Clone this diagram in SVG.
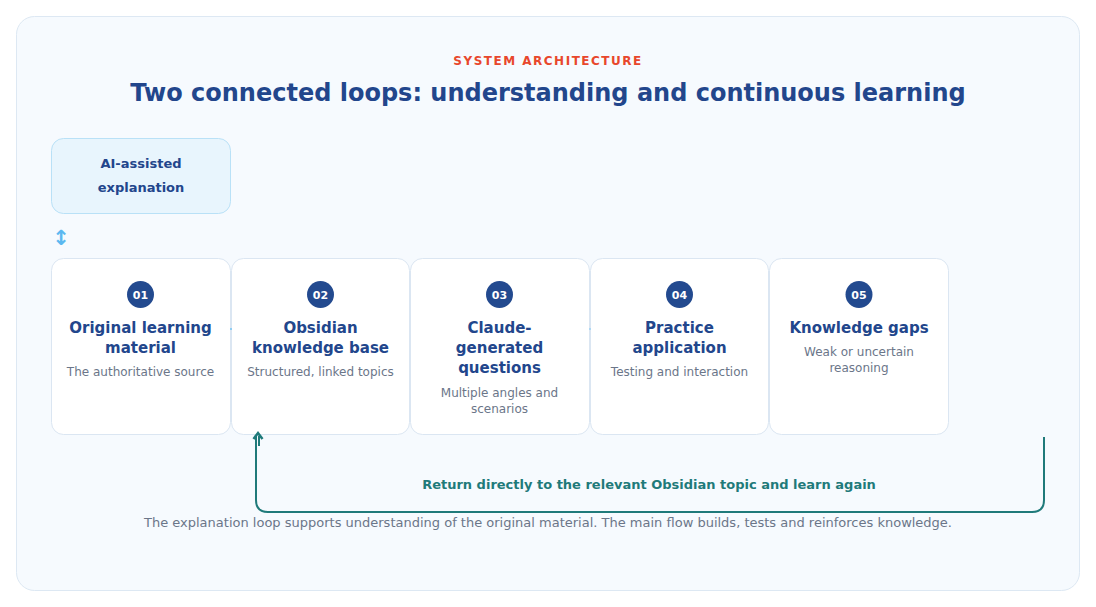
<svg xmlns="http://www.w3.org/2000/svg" width="1096" height="607" viewBox="0 0 1096 607">
<defs>
<style>
.t{font-family:"DejaVu Sans","Liberation Sans",sans-serif;text-anchor:middle}
.card{fill:#ffffff;stroke:#dbe6f2;stroke-width:1}
.num{fill:#234a8f}
.numt{font-size:11px;font-weight:bold;fill:#ffffff}
.ttl{font-size:15px;font-weight:bold;fill:#22468c}
.sub{font-size:12px;fill:#6b7689}
.flow{stroke:#8fcdf3;stroke-width:2;fill:none}
</style>
</defs>
<rect width="1096" height="607" fill="#ffffff"/>
<rect x="16.5" y="16.5" width="1063" height="574" rx="18" fill="#f6fafe" stroke="#dde8f3"/>
<text class="t" x="548" y="65" font-size="12" font-weight="bold" fill="#e8472c" letter-spacing="1.5">SYSTEM ARCHITECTURE</text>
<text class="t" x="548" y="101" font-size="24" font-weight="bold" fill="#22468c">Two connected loops: understanding and continuous learning</text>
<g id="ai-explanation">
<rect x="51.5" y="138.5" width="179" height="75" rx="12" fill="#e8f5fd" stroke="#b9e1f7"/>
<text class="t" x="141" y="168" font-size="13" font-weight="bold" fill="#22468c">AI-assisted</text>
<text class="t" x="141" y="192" font-size="13" font-weight="bold" fill="#22468c">explanation</text>
</g>
<g id="step-01">
<rect class="card" x="51.5" y="258.5" width="179" height="176" rx="12"/>
<circle class="num" cx="140.5" cy="294.5" r="13.5"/>
<text class="t numt" x="140.5" y="298.5">01</text>
<text class="t ttl" x="140.5" y="333">Original learning</text>
<text class="t ttl" x="140.5" y="353">material</text>
<text class="t sub" x="140.5" y="376">The authoritative source</text>
</g>
<g id="step-02">
<rect class="card" x="231.5" y="258.5" width="178" height="176" rx="12"/>
<circle class="num" cx="320.5" cy="294.5" r="13.5"/>
<text class="t numt" x="320.5" y="298.5">02</text>
<text class="t ttl" x="320.5" y="333">Obsidian</text>
<text class="t ttl" x="320.5" y="353">knowledge base</text>
<text class="t sub" x="320.5" y="376">Structured, linked topics</text>
</g>
<g id="step-03">
<rect class="card" x="410.5" y="258.5" width="179" height="176" rx="12"/>
<circle class="num" cx="499.5" cy="294.5" r="13.5"/>
<text class="t numt" x="499.5" y="298.5">03</text>
<text class="t ttl" x="499.5" y="333">Claude-</text>
<text class="t ttl" x="499.5" y="353">generated</text>
<text class="t ttl" x="499.5" y="373">questions</text>
<text class="t sub" x="499.5" y="397">Multiple angles and</text>
<text class="t sub" x="499.5" y="413">scenarios</text>
</g>
<g id="step-04">
<rect class="card" x="590.5" y="258.5" width="178" height="176" rx="12"/>
<circle class="num" cx="679.5" cy="294.5" r="13.5"/>
<text class="t numt" x="679.5" y="298.5">04</text>
<text class="t ttl" x="679.5" y="333">Practice</text>
<text class="t ttl" x="679.5" y="353">application</text>
<text class="t sub" x="679.5" y="376">Testing and interaction</text>
</g>
<g id="step-05">
<rect class="card" x="769.5" y="258.5" width="179" height="176" rx="12"/>
<circle class="num" cx="859" cy="294.5" r="13.5"/>
<text class="t numt" x="859" y="298.5">05</text>
<text class="t ttl" x="859" y="333">Knowledge gaps</text>
<text class="t sub" x="859" y="356">Weak or uncertain</text>
<text class="t sub" x="859" y="372">reasoning</text>
</g>
<g id="connectors">
<line class="flow" x1="230" y1="329" x2="232" y2="329"/>
<line class="flow" x1="589" y1="329" x2="591" y2="329" stroke-opacity="0.6"/>
<text class="t" x="61" y="245" font-size="21" font-weight="bold" fill="#5bb8f0">↕</text>
<path d="M1044,437 L1044,500 Q1044,512 1032,512 L268,512 Q256,512 256,500 L256,436" fill="none" stroke="#1f7a7a" stroke-width="2"/>
<line x1="259" y1="436" x2="259" y2="446" stroke="#1f7a7a" stroke-width="2"/>
<path d="M253.5,439 L258,433 L262.5,439" fill="none" stroke="#1f7a7a" stroke-width="2.5"/>
<text class="t" x="649" y="489" font-size="13" font-weight="bold" fill="#1f7a7a">Return directly to the relevant Obsidian topic and learn again</text>
</g>
<text class="t" x="548" y="527" font-size="13" fill="#6b7689">The explanation loop supports understanding of the original material. The main flow builds, tests and reinforces knowledge.</text>
</svg>
